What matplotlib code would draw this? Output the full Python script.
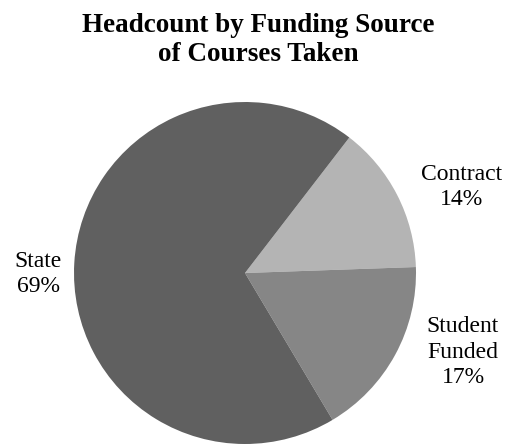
import matplotlib
matplotlib.use("Agg")
import matplotlib.pyplot as plt

categories = ["Contract", "Student\nFunded", "State"]
values = [14, 17, 69]
colors = ["#b4b4b4", "#868686", "#606060"]

W, H = 508, 445
fig = plt.figure(figsize=(W/100, H/100), dpi=100)
plt.rcParams['font.family'] = ['Liberation Serif', 'DejaVu Serif']

# pie axes in pixel coords
x0, y0, d = 74, 102, 342
ax = fig.add_axes([x0/W, 1 - (y0+d)/H, d/W, d/H])
ax.pie(values, colors=colors, startangle=52.4, counterclock=False,
       wedgeprops=dict(linewidth=0))
ax.set_aspect('equal')
ax.set_xlim(-1, 1)
ax.set_ylim(-1, 1)
ax.axis('off')

def px(x, y):
    return x/W, 1 - y/H

fig.text(*px(258, 40), "Headcount by Funding Source\nof Courses Taken",
         ha='center', va='center', fontsize=19.5, fontweight='bold', linespacing=1.22)

label_pos = [(462, 187), (463, 352), (38, 274)]
for cat, v, (lx, ly) in zip(categories, values, label_pos):
    fig.text(*px(lx, ly), f"{cat}\n{v}%", ha='center', va='center',
             fontsize=17, linespacing=1.3)

fig.savefig("out.png", dpi=100)
